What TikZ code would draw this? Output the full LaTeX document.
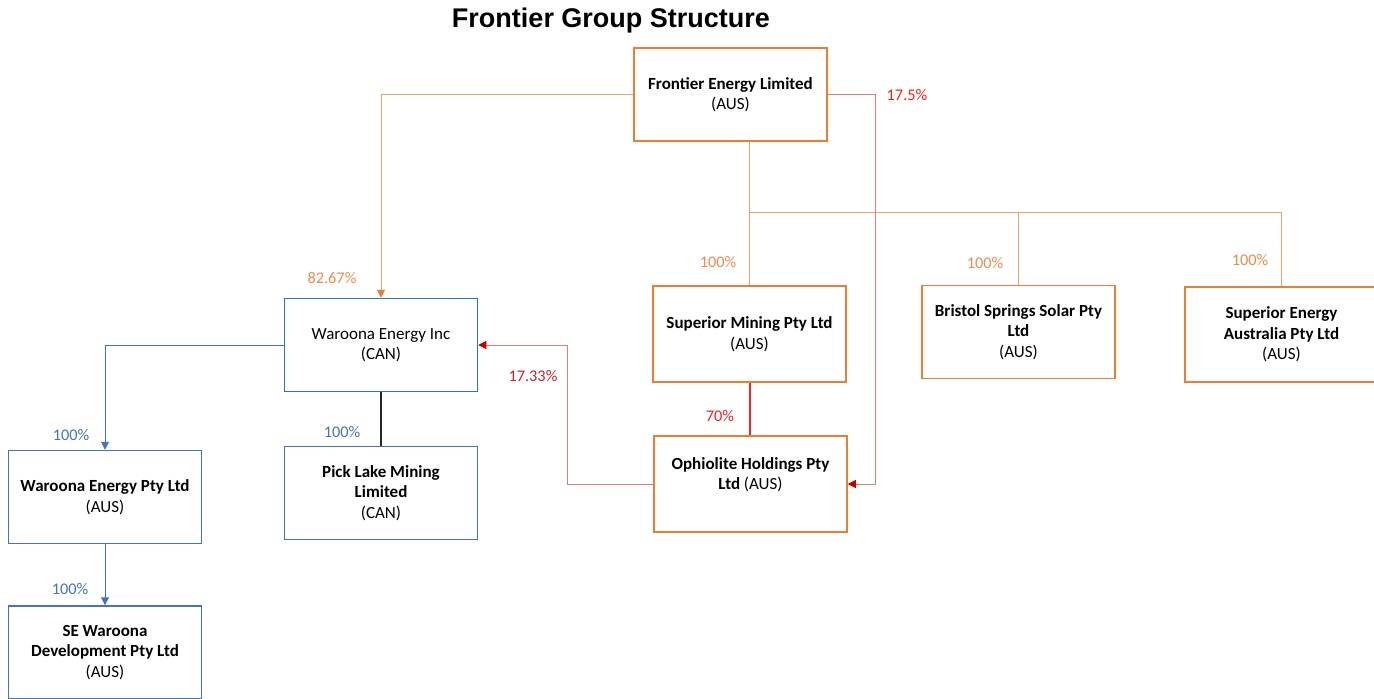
\documentclass[tikz,border=0pt]{standalone}
\usepackage{fontspec}
\setmainfont{Carlito}
\newfontfamily\titlefont{Liberation Sans}
\usetikzlibrary{arrows.meta}
\definecolor{boxorange}{HTML}{ED7D31}
\definecolor{lineorange}{HTML}{F2A06B}
\definecolor{boxblue}{HTML}{2E75B6}
\definecolor{boxblue2}{HTML}{4472C4}
\definecolor{linered}{HTML}{E57C7C}
\definecolor{brightred}{HTML}{FF2020}
\definecolor{tipred}{HTML}{C00000}
\definecolor{labred}{HTML}{FF1A1A}
\definecolor{labdred}{HTML}{D0202A}
\definecolor{laborange}{HTML}{F08A4B}
\definecolor{labblue}{HTML}{4472C4}
\tikzset{
  every node/.style={font=\fontsize{17}{20.5}\selectfont, inner sep=0pt},
  entity/.style={draw, line width=1.5pt, fill=white, align=center, minimum width=193pt, minimum height=93pt},
  obox/.style={entity, draw=boxorange},
  bbox/.style={entity, draw=boxblue2},
  oline/.style={draw=lineorange, line width=1pt},
  rline/.style={draw=linered, line width=1pt},
  sline/.style={color=brightred, line width=1.5pt},
  bline/.style={draw=boxblue2, line width=1pt},
  tipR/.style={-{Triangle[length=8pt,width=8pt,color=tipred]}},
  tipO/.style={-{Triangle[length=8pt,width=8pt,color=boxorange]}},
  tipB/.style={-{Triangle[length=8pt,width=8pt,color=boxblue2]}},
  pct/.style={anchor=base, font=\fontsize{16.3}{19}\selectfont},
}
\begin{document}
\begin{tikzpicture}[x=1pt,y=-1pt]
\useasboundingbox (0,0) rectangle (1374,699);
\clip (0,0) rectangle (1374,699);
% title
\node[anchor=base, font=\titlefont\fontsize{27}{30}\selectfont\bfseries] (title) at (611,27) {Frontier Group Structure};
% entities
\node[obox] (fel) at (730.5,94.5) {\textbf{Frontier Energy Limited}\\(AUS)};
\node[entity, draw=boxblue] (wei) at (381,345) {Waroona Energy Inc\\(CAN)};
\node[bbox] (plm) at (381,493) {\textbf{Pick Lake Mining}\\\textbf{Limited}\\(CAN)};
\node[bbox] (wep) at (105,497) {\textbf{Waroona Energy Pty Ltd}\\(AUS)};
\node[bbox] (sew) at (105,652.5) {\textbf{SE Waroona}\\\textbf{Development Pty Ltd}\\(AUS)};
\node[obox, minimum height=96pt] (sm) at (749.5,334) {\textbf{Superior Mining Pty Ltd}\\(AUS)};
\node[obox, minimum height=96pt] (oph) at (750.5,484) {\textbf{Ophiolite Holdings Pty}\\\textbf{Ltd} (AUS)\\\mbox{}};
\node[obox] (bss) at (1018.5,332) {\textbf{Bristol Springs Solar Pty}\\\textbf{Ltd}\\(AUS)};
\node[obox, minimum height=95pt] (sea) at (1281.5,334.5) {\textbf{Superior Energy}\\\textbf{Australia Pty Ltd}\\(AUS)};
% helper coordinates
\coordinate (bus) at (750,212);
\coordinate (rj) at (875,0);
\coordinate (lj) at (567,0);
% orange connectors
\draw[oline, tipO] (fel.west) -| (wei.north);
\draw[oline] (fel.south -| sm.north) -- (sm.north);
\draw[oline] (sm.north |- bus) -| (bss.north);
\draw[oline] (bss.north |- bus) -| (sea.north);
% red connectors
\draw[rline, tipR] (fel.east) -- (fel.east -| rj) |- (oph.east);
\draw[rline, tipR] (oph.west) -- (oph.west -| lj) |- (wei.east);
\draw[sline] (sm.south -| bus) -- (oph.north -| bus);
% blue / black connectors
\draw[bline, tipB] (wei.west) -| (wep.north);
\draw[bline, tipB] (wep.south) -- (sew.north);
\draw[draw=black!85, line width=1.5pt] (wei.south) -- (plm.north);
% labels
\node[pct, text=laborange] (l1) at (332,283) {82.67\%};
\node[pct, text=labred] (l2) at (907,100) {17.5\%};
\node[pct, text=laborange] (l3) at (718,267) {100\%};
\node[pct, text=laborange] (l4) at (985,268) {100\%};
\node[pct, text=laborange] (l5) at (1250,265) {100\%};
\node[pct, text=labred] (l6) at (720,421) {70\%};
\node[pct, text=labdred] (l7) at (533,381) {17.33\%};
\node[pct, text=labblue] (l8) at (71,440) {100\%};
\node[pct, text=labblue] (l9) at (342,437) {100\%};
\node[pct, text=labblue] (l10) at (70,594) {100\%};
\end{tikzpicture}
\end{document}
